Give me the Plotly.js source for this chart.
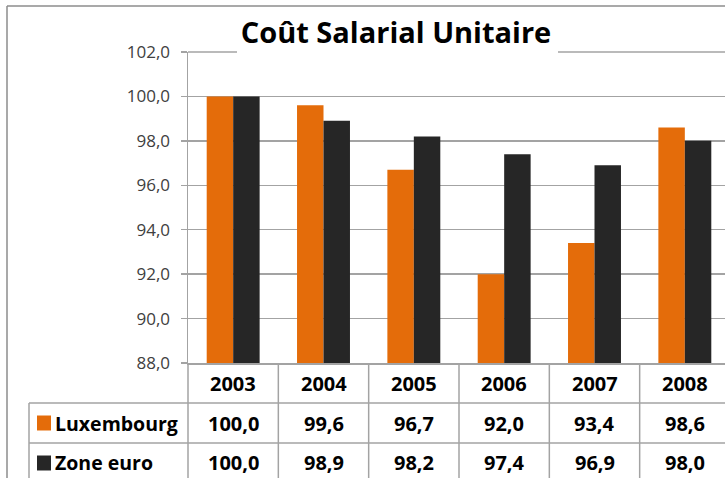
<!DOCTYPE html>
<html>
<head>
<meta charset="utf-8">
<script src="https://cdn.plot.ly/plotly-3.0.1.min.js"></script>
<style>
html,body{margin:0;padding:0;overflow:hidden;background:#fff;}
#chart{width:745px;height:478px;}
</style>
</head>
<body>
<div id="chart"></div>
<script>
var years = ['2003','2004','2005','2006','2007','2008'];
var seriesNames = ['Luxembourg','Zone euro'];
var luxembourg = [100.0, 99.6, 96.7, 92.0, 93.4, 98.6];
var zoneEuro = [100.0, 98.9, 98.2, 97.4, 96.9, 98.0];
var colors = ['#E46C0A', '#262626'];
var titleText = 'Coût Salarial Unitaire';

var FONT = '"Open Sans", Lato, sans-serif';
var L = 188, R = 15, T = 52, B = 115, WIDTH = 745, HEIGHT = 478;
var PW = WIDTH - L - R, PH = HEIGHT - T - B;
function px(X){ return (X - L) / PW; }
function py(Y){ return (T + PH - Y) / PH; }

var allSeries = [luxembourg, zoneEuro];
var traces = allSeries.map(function(vals, i){
  return {
    type: 'bar', x: years, y: vals, name: seriesNames[i],
    marker: {color: colors[i], line: {width: 0}},
    hoverinfo: 'x+y+name'
  };
});

var gridCol = '#a3a3a3';
var shapes = [];
// top gridline (range edge)
shapes.push({type:'line', xref:'paper', yref:'paper', x0:0, x1:1.05, y0:1, y1:1, line:{color:gridCol, width:1.5}});
// title white backing
shapes.push({type:'rect', xref:'paper', yref:'paper', x0:px(237), x1:px(558), y0:py(60), y1:py(45),
  fillcolor:'#ffffff', line:{width:0}, layer:'above'});
// outer frame (top and left)
shapes.push({type:'line', xref:'paper', yref:'paper', x0:px(7), x1:px(760), y0:py(6), y1:py(6), line:{color:'#8c8c8c', width:1.5}});
shapes.push({type:'line', xref:'paper', yref:'paper', x0:px(7), x1:px(7), y0:py(6), y1:py(490), line:{color:'#8c8c8c', width:1.5}});
// table: vertical lines at category boundaries
for (var i = 0; i <= years.length; i++) {
  shapes.push({type:'line', xref:'paper', yref:'paper', x0:i/years.length, x1:i/years.length, y0:py(363), y1:py(490),
    line:{color:gridCol, width:1.5}});
}
// table: left edge line of series rows
shapes.push({type:'line', xref:'paper', yref:'paper', x0:px(29), x1:px(29), y0:py(403), y1:py(490), line:{color:gridCol, width:1.5}});
// table: horizontal row lines
[403, 443, 483].forEach(function(Y){
  shapes.push({type:'line', xref:'paper', yref:'paper', x0:px(29), x1:px(760), y0:py(Y), y1:py(Y), line:{color:gridCol, width:1.5}});
});
// legend keys
var rowCenters = [423, 463];
rowCenters.forEach(function(Y, i){
  shapes.push({type:'rect', xref:'paper', yref:'paper', x0:px(37), x1:px(51), y0:py(Y+7.5), y1:py(Y-7.5),
    fillcolor:colors[i], line:{width:0}});
});

var annotations = [];
var cellFont = {family: FONT, size: 20, color: '#000000', weight: 'bold'};
var labelFont = {family: FONT, size: 19.5, color: '#000000', weight: 'bold'};
years.forEach(function(yr, j){
  annotations.push({xref:'x', yref:'paper', x:j, y:py(383), text:yr, showarrow:false,
    xanchor:'center', yanchor:'middle', font:cellFont});
  allSeries.forEach(function(vals, i){
    annotations.push({xref:'x', yref:'paper', x:j, y:py(rowCenters[i]),
      text: vals[j].toFixed(1).replace('.', ','), showarrow:false,
      xanchor:'center', yanchor:'middle', font:cellFont});
  });
});
seriesNames.forEach(function(n, i){
  annotations.push({xref:'paper', yref:'paper', x:px(53), y:py(rowCenters[i]), text:n, showarrow:false,
    xanchor:'left', yanchor:'middle', font:labelFont});
});

var layout = {
  width: WIDTH, height: HEIGHT,
  margin: {l: L, r: R, t: T, b: B, pad: 0},
  paper_bgcolor: '#ffffff', plot_bgcolor: '#ffffff',
  separators: ', ',
  showlegend: false,
  barmode: 'group', bargap: 0.414, bargroupgap: 0,
  title: {text: titleText, x: px(396), xref: 'paper', xanchor: 'center',
    y: 1 - 33/HEIGHT, yref: 'container', yanchor: 'middle',
    font: {family: FONT, size: 29, color: '#000000', weight: 'bold'}},
  xaxis: {type: 'category', categoryorder: 'array', categoryarray: years,
    range: [-0.5, years.length - 0.5], autorange: false,
    showticklabels: false, ticks: '', showgrid: false,
    showline: true, linecolor: gridCol, linewidth: 1.5, fixedrange: true},
  yaxis: {range: [88, 102], autorange: false, dtick: 2, tick0: 88, tickformat: '.1f',
    showgrid: true, gridcolor: gridCol, gridwidth: 1.5,
    showline: true, linecolor: gridCol, linewidth: 1.5,
    ticks: 'outside', ticklen: 6, tickcolor: gridCol, tickwidth: 1.5,
    ticklabelstandoff: 7,
    tickfont: {family: FONT, size: 17, color: '#404040'}, zeroline: false, fixedrange: true},
  shapes: shapes,
  annotations: annotations
};

Plotly.newPlot('chart', traces, layout, {displayModeBar: false, staticPlot: true});
</script>
</body>
</html>
